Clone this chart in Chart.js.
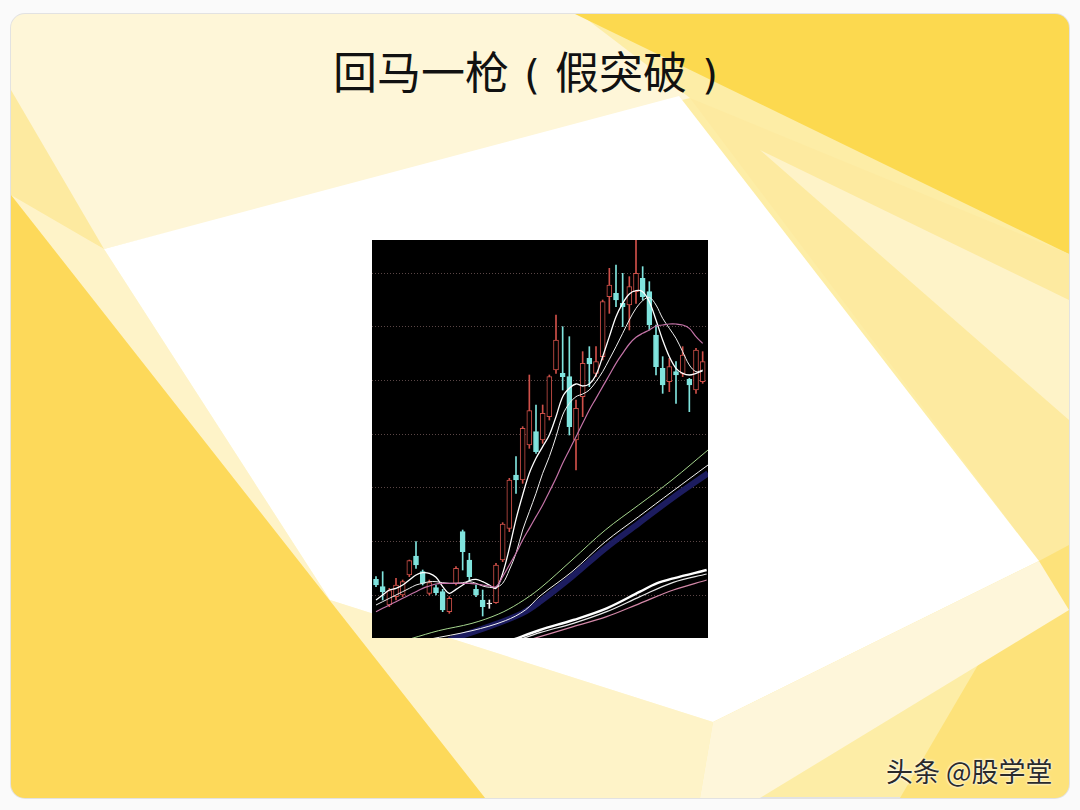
<!DOCTYPE html>
<html><head><meta charset="utf-8">
<script src="https://cdn.jsdelivr.net/npm/chart.js@4"></script>
<style>
html,body{margin:0;padding:0;width:1080px;height:810px;overflow:hidden;background:#fafafa;}
#bg{position:absolute;left:0;top:0;}
#title{position:absolute;left:0;width:1066px;top:41px;text-align:center;font-family:"Noto Sans CJK SC","Noto Sans",sans-serif;font-size:44px;color:#111;line-height:58px;white-space:nowrap;}
#title span.p{display:inline-block;width:46px;text-align:center;font-family:"DejaVu Sans","Noto Sans",sans-serif;font-size:40px;}
#wm{position:absolute;left:886px;top:751px;font-family:"Noto Sans CJK SC","Noto Sans",sans-serif;font-size:27px;color:#2a2a2a;text-shadow:0 0 3px #fff,0 0 2px #fff;white-space:nowrap;}
#box{position:absolute;left:372px;top:240px;width:336px;height:398px;background:#000;}
#box canvas{display:block;}
</style></head>
<body>
<svg id="bg" width="1080" height="810">
<defs><clipPath id="cp"><rect x="11" y="14" width="1058" height="784" rx="14"/></clipPath></defs>
<rect x="11" y="14" width="1058" height="784" rx="14" fill="#fdeda6" stroke="#e2e2e2" stroke-width="2"/>
<g clip-path="url(#cp)">
<polygon points="11,14 580,14 690,98 104,249 11,200" fill="#fef6d8"/>
<polygon points="11,90 104,249 11,200" fill="#fdeaa0"/>
<polygon points="575,14 1069,14 1069,254" fill="#fcd94f"/>
<polygon points="690,98 1069,254 1069,560 1039,561" fill="#fdeaa0"/>
<polygon points="760,150 1069,300 1069,420" fill="#fef3c8"/>
<polygon points="11,195 104,249 330,600 713,722 700,798 485,798" fill="#fef3c8"/>
<polygon points="11,195 11,798 485,798" fill="#fdd95a"/>
<polygon points="104,249 679,96 1039,561 713,722 330,600" fill="#ffffff"/>
<polygon points="1039,561 1069,545 1069,798 900,798" fill="#fde27a"/>
<polygon points="713,722 1039,561 1069,610 760,798 700,798" fill="#fef6da"/>
</g>
</svg>
<div id="title">回马一枪<span class="p">(</span>假突破<span class="p">)</span></div>
<div id="box"><canvas id="c" width="336" height="398"></canvas></div>
<div id="wm">头条 @股学堂</div>
<script>
// ---- data (price units) ----
const opens  = [18.2,16,10.5,13,13.5,19.5,25.2,20.5,14,15.7,14.5,8.5,17,32.5,24,15.2,12,10.8,11.2,24,33.5,49.5,48,58.5,62.5,60,67,81,80,79,60,73,84.5,80,85,103,104,101,100.5,104.5,108.5,104.5,91.5,81.5,77.5,80.5,80,78.2,75,77.5];
const highs  = [19,20.5,15.5,18.5,18,24,29.5,21,18,16.5,15.2,13,22,33,26,16.5,15,12,23,35.2,48.5,55,64,79.5,70.5,70.5,79.5,97.5,94,91,72,86.5,88,88,102,111.5,112.5,110,109,120,112,107.5,94.5,85,84.5,83.5,88,78.5,87.5,86.5];
const lows   = [16,12,10,12,13,19,21.5,16.5,13.5,13.5,8.5,8,16.5,21,18,13,7.2,9.5,11,23.5,32.5,44,47,57.5,56,59,66,80,75,61.5,51,67,76,79,84,98,100,94,93,101,102,93,79.5,74,74.5,71,79,68.5,74,77];
const closes = [16.5,14.5,14.8,16.5,17.5,23.8,22.5,17,17.2,14.2,9,12.5,21.5,26.5,19,13.5,10,10.8,22.5,34.8,48,48,63.5,68.8,56.5,68,79,90,79,64,69.5,83,82.8,83.5,101.5,106.5,102,100,106,110,103,94.5,82,76.5,82,79.5,85.5,76.5,87,83.5];
const ma5  = [12,13.5,15,15.5,16.5,18,19.5,20.2,20,18.8,16,14,15.2,16.5,17.8,18.2,17.5,16.5,15.5,20,27.5,36.2,43.5,50,54.5,58,61.5,67,73,75.5,76.8,76.2,76.8,79.5,85,91,97,101,103.8,104.8,104.5,101.5,96,90,85,81.5,80,79.5,80,80.8];
const ma10 = [10.5,11.5,12.5,13.5,14.5,15.5,16.5,17,17.5,17.5,17.2,17,17,17.2,17.5,17,16.2,15.8,15.8,17,21,26,33,38.5,44,50,55,61,67.5,71,73,73.8,75,77.5,80.5,84.2,88,92,96,99.5,101.8,102.8,100.5,96.5,93.5,90.5,86.5,82.5,80.5,81];
const ma20 = [8.5,9.5,10.5,11.5,12.5,13.5,14.5,15.5,16.2,16.8,17,17,17,17,17,16.8,16.5,16.2,16,19,22.5,26,30,33.5,37,40.5,44.5,48.5,53,57,61,65,69,72.5,76,79.5,83,86,88.8,90.8,92,93,94.2,94.5,94.8,94.8,94.5,93.5,91,89];
// long moving averages, read at selected bar positions
const ma60X  = [5.4,9.4,14.4,18.4,21.4,24.6,29.4,34.4,39.4,44.4,49.8];
const ma60   = [0.5,2.8,5.0,7.8,11.0,15.5,24.0,33.0,40.5,48.0,57.0];
const ma90X  = [7.9,14.4,19.4,22.4,24.6,29.4,34.4,39.4,44.4,49.8];
const ma90   = [0.2,2.8,5.8,9.0,13.2,20.5,29.5,37.0,44.5,52.5];
const ma120X = [10.9,16.9,21.9,24.6,29.4,34.4,39.4,44.4,49.8];
const ma120  = [0,4.0,8.0,11.5,19.0,27.5,35.0,42.5,50.0];
const ma250X = [20.4,24.6,29.6,34.6,39.6,42.1,44.6,49.6];
const ma250  = [0,3.0,6.0,9.5,14.5,17.0,18.5,21.0];
const ma300X = [21.4,24.6,29.6,34.6,39.6,44.6,49.6];
const ma300  = [0,2.2,5.0,8.5,13.0,17.3,19.8];
const ma360X = [22.9,29.6,34.6,39.6,44.6,49.6];
const ma360  = [0,4.0,7.0,11.0,15.0,18.0];
const gridLevels = [13.5,29.6,45.7,61.8,77.9,94.0,110.1];

const UP='#cf5049', DOWN='#80e4de', FLAT='#f4f4f4';
const idx = opens.map((_,i)=>i);
const colOf = i => closes[i]>opens[i]?UP:(closes[i]<opens[i]?DOWN:FLAT);
const fillOf = i => closes[i]>opens[i]?'#000000':colOf(i);
const pts = (xs,ys)=>xs.map((x,i)=>({x:x,y:ys[i]}));
const line = (data,color,w,order)=>({type:'line',data:data,borderColor:color,borderWidth:w,pointRadius:0,tension:0.35,fill:false,order:order});

new Chart(document.getElementById('c'),{
  type:'bar',
  data:{datasets:[
    {type:'bar',data:idx.map(i=>({x:i,y:[lows[i],highs[i]]})),backgroundColor:idx.map(colOf),barThickness:1,grouped:false,order:4},
    {type:'bar',data:idx.map(i=>({x:i,y:[opens[i],closes[i]]})),backgroundColor:idx.map(fillOf),borderColor:idx.map(colOf),borderWidth:1,borderSkipped:false,barThickness:5,minBarLength:1,grouped:false,order:3},
    line(pts(ma120X,ma120),'rgba(30,30,100,0.95)',6,2),
    line(pts(ma60X,ma60),'#a6d68e',1,1),
    line(pts(ma90X,ma90),'#f2f2f2',1,1),
    line(pts(ma360X,ma360),'#d488a8',1.2,1),
    line(pts(ma300X,ma300),'#e8e8e8',1.2,1),
    line(pts(ma250X,ma250),'#ffffff',2.4,1),
    line(pts(idx,ma20),'#c574a8',1.2,0),
    line(pts(idx,ma10),'#eeeeee',1,0),
    line(pts(idx,ma5),'#ffffff',1.3,0)
  ]},
  options:{
    responsive:false,animation:false,events:[],
    layout:{padding:0},
    plugins:{legend:{display:false},tooltip:{enabled:false}},
    scales:{
      x:{type:'linear',min:-0.6,max:49.8,display:false,offset:false},
      y:{min:0.6,max:120,
         grid:{color:'#5a4646',lineWidth:1,drawTicks:false},
         border:{display:false,dash:[1,2]},
         ticks:{display:false},
         afterBuildTicks:ax=>{ax.ticks=gridLevels.map(v=>({value:v}));},
         afterFit:ax=>{ax.width=0;}}
    }
  }
});
</script>
</body></html>
